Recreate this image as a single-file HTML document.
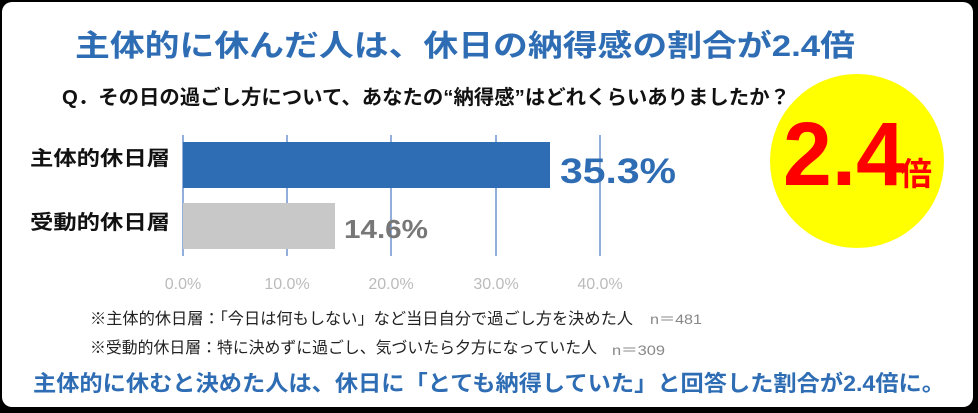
<!DOCTYPE html>
<html><head><meta charset="utf-8"><style>
html,body{margin:0;padding:0;background:#000;}
svg{display:block;}
</style></head><body>
<svg width="978" height="413" viewBox="0 0 978 413" xmlns="http://www.w3.org/2000/svg" font-family="'Liberation Sans','Noto Sans CJK JP',sans-serif">
<rect x="0" y="0" width="978" height="413" fill="#000"/>
<rect x="2" y="2" width="971" height="405" rx="10" fill="#fff"/>
<text x="75" y="56" font-size="30" font-weight="bold" fill="#2e6db4" textLength="780" lengthAdjust="spacingAndGlyphs">主体的に休んだ人は、休日の納得感の割合が2.4倍</text>
<text x="62" y="104" font-size="20" font-weight="bold" fill="#111" textLength="728" lengthAdjust="spacingAndGlyphs">Q．その日の過ごし方について、あなたの“納得感”はどれくらいありましたか？</text>
<circle cx="857" cy="161" r="87" fill="#ffff00"/>
<text x="783" y="185" font-size="90" font-weight="bold" fill="#ff0000" textLength="122" lengthAdjust="spacingAndGlyphs">2.4</text>
<text x="900" y="185" font-size="32" font-weight="bold" fill="#ff0000">倍</text>
<g stroke="#4a78c0" stroke-width="1.2">
<line x1="183" y1="135" x2="183" y2="256"/>
<line x1="287" y1="135" x2="287" y2="256"/>
<line x1="391" y1="135" x2="391" y2="256"/>
<line x1="496" y1="135" x2="496" y2="256"/>
<line x1="600" y1="135" x2="600" y2="256"/>
</g>
<rect x="183" y="142" width="367" height="46" fill="#2e6db4"/>
<rect x="183" y="203" width="152" height="46" fill="#c8c8c8"/>
<text x="560" y="183" font-size="35" font-weight="bold" fill="#2e6db4" textLength="116" lengthAdjust="spacingAndGlyphs">35.3%</text>
<text x="344" y="238" font-size="26" font-weight="bold" fill="#777" textLength="84" lengthAdjust="spacingAndGlyphs">14.6%</text>
<g font-size="16" fill="#bbb" text-anchor="middle">
<text x="183" y="289">0.0%</text>
<text x="287" y="289">10.0%</text>
<text x="391" y="289">20.0%</text>
<text x="496" y="289">30.0%</text>
<text x="600" y="289">40.0%</text>
</g>
<text x="30" y="165" font-size="20" font-weight="bold" fill="#111" textLength="140" lengthAdjust="spacingAndGlyphs">主体的休日層</text>
<text x="30" y="229" font-size="20" font-weight="bold" fill="#111" textLength="140" lengthAdjust="spacingAndGlyphs">受動的休日層</text>
<text x="90" y="324" font-size="16" fill="#222" textLength="543" lengthAdjust="spacingAndGlyphs">※主体的休日層：「今日は何もしない」など当日自分で過ごし方を決めた人</text>
<text x="650" y="324" font-size="14" fill="#888" textLength="52" lengthAdjust="spacingAndGlyphs">n＝481</text>
<text x="90" y="353" font-size="16" fill="#222" textLength="507" lengthAdjust="spacingAndGlyphs">※受動的休日層：特に決めずに過ごし、気づいたら夕方になっていた人</text>
<text x="612" y="355" font-size="14" fill="#888" textLength="53" lengthAdjust="spacingAndGlyphs">n＝309</text>
<text x="33" y="391" font-size="22" font-weight="bold" fill="#2e6db4" textLength="912" lengthAdjust="spacingAndGlyphs">主体的に休むと決めた人は、休日に「とても納得していた」と回答した割合が2.4倍に。</text>
</svg>
</body></html>
